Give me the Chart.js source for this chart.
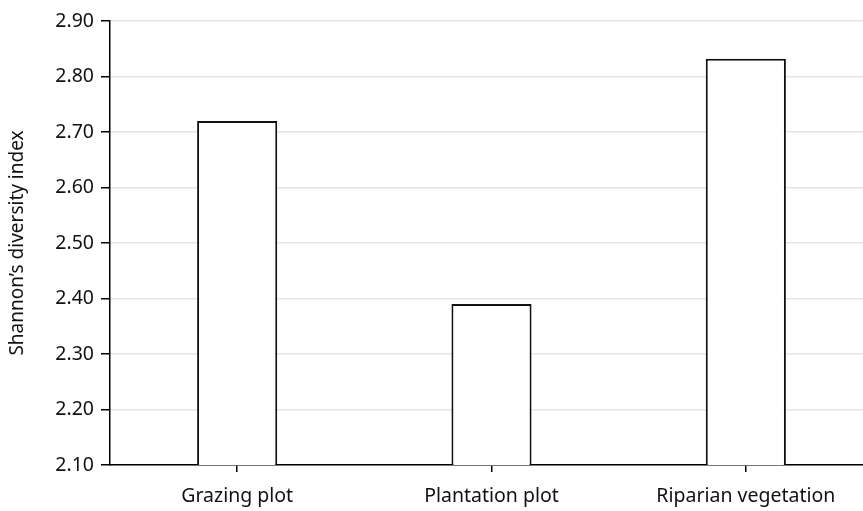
<!DOCTYPE html>
<html>
<head>
<meta charset="utf-8">
<script src="https://cdn.jsdelivr.net/npm/chart.js@4/dist/chart.umd.min.js"></script>
<style>
html,body{margin:0;padding:0;background:#fff;overflow:hidden;}
#wrap{width:863px;height:511px;overflow:hidden;position:relative;}
canvas{display:block;}
</style>
</head>
<body>
<div id="wrap"><canvas id="c" width="873" height="511"></canvas></div>
<script>
const categories = ["Grazing plot", "Plantation plot", "Riparian vegetation"];
const shannonIndex = [2.72, 2.39, 2.832];
const yTicks = [2.10, 2.20, 2.30, 2.40, 2.50, 2.60, 2.70, 2.80, 2.90];
const yTitle = "Shannon\u2019s diversity index";

const FONT = "'Noto Sans', 'Open Sans', sans-serif";

new Chart(document.getElementById('c'), {
  type: 'bar',
  data: {
    labels: categories,
    datasets: [{
      data: shannonIndex,
      backgroundColor: '#ffffff',
      borderColor: '#111111',
      borderWidth: 2,
      borderSkipped: 'bottom',
      barPercentage: 0.315,
      categoryPercentage: 1.0
    }]
  },
  options: {
    responsive: false,
    devicePixelRatio: 1,
    animation: false,
    layout: { padding: { top: 21, right: 0, bottom: 0, left: 0 } },
    plugins: { legend: { display: false }, tooltip: { enabled: false } },
    scales: {
      x: {
        grid: { offset: false, drawOnChartArea: false, drawTicks: true, tickLength: 7, tickColor: '#000', lineWidth: 1.5 },
        border: { display: true, color: '#000', width: 1.5 },
        ticks: { color: '#111', font: { family: FONT, size: 19.5 }, padding: 13, maxRotation: 0 },
        afterFit: s => { s.height = 46; }
      },
      y: {
        min: yTicks[0],
        max: yTicks[yTicks.length - 1],
        afterBuildTicks: s => { s.ticks = yTicks.map(v => ({ value: v })); },
        grid: { color: '#e6e6e6', lineWidth: 1.5, tickColor: '#000', tickLength: 9, drawTicks: true },
        border: { display: true, color: '#000', width: 1.5 },
        ticks: { color: '#111', font: { family: FONT, size: 19.5 }, padding: 7, callback: v => Number(v).toFixed(2) },
        title: { display: true, text: yTitle, color: '#111', font: { family: FONT, size: 19 }, padding: { top: 6, bottom: 0 } },
        afterFit: s => { s.width = 110; }
      }
    }
  }
});
</script>
</body>
</html>
